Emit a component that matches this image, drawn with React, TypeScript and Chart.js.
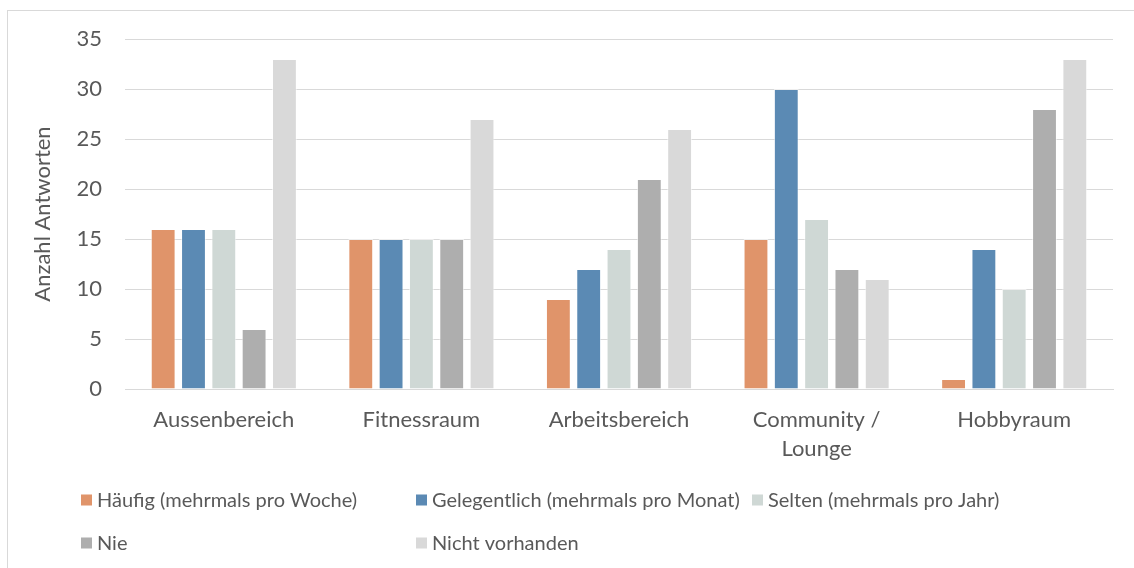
import React, { useEffect, useRef } from "react";
import { Chart, registerables } from "chart.js";

Chart.register(...registerables);

// Categories (rooms) and answer counts per usage frequency
const categories: (string | string[])[] = [
  "Aussenbereich",
  "Fitnessraum",
  "Arbeitsbereich",
  ["Community /", "Lounge"],
  "Hobbyraum",
];

const seriesNames = [
  "Häufig (mehrmals pro Woche)",
  "Gelegentlich (mehrmals pro Monat)",
  "Selten (mehrmals pro Jahr)",
  "Nie",
  "Nicht vorhanden",
];

const haeufig = [16, 15, 9, 15, 1];
const gelegentlich = [16, 15, 12, 30, 14];
const selten = [16, 15, 14, 17, 10];
const nie = [6, 15, 21, 12, 28];
const nichtVorhanden = [33, 27, 26, 11, 33];

const yMin = 0;
const yMax = 35;
const yStep = 5;
const yTitle = "Anzahl Antworten";

const seriesColors = ["#E0946A", "#5B8AB4", "#CFD8D5", "#AEAEAE", "#D9D9D9"];

const FONT = "Lato, 'Open Sans', sans-serif";
const TEXT = "#595959";
const GRID = "#D9D9D9";

// Legend laid out in a fixed grid: three columns, two rows
const legendCols = [81, 416, 752];
const legendRows = [500, 543];
const legendBox = 11;

const gridLegend = {
  id: "gridLegend",
  afterDraw(chart: Chart) {
    const ctx = chart.ctx;
    ctx.save();
    ctx.font = `20px ${FONT}`;
    ctx.textBaseline = "middle";
    ctx.textAlign = "left";
    chart.data.datasets.forEach((ds, i) => {
      const col = i % 3;
      const row = Math.floor(i / 3);
      const x = legendCols[col];
      const y = legendRows[row];
      ctx.fillStyle = ds.backgroundColor as string;
      ctx.fillRect(x, y - legendBox / 2, legendBox, legendBox);
      ctx.fillStyle = TEXT;
      ctx.fillText(ds.label as string, x + legendBox + 5, y + 1);
    });
    ctx.restore();
  },
};

export default function App() {
  const canvasRef = useRef<HTMLCanvasElement | null>(null);

  useEffect(() => {
    const canvas = canvasRef.current;
    if (!canvas) return;
    const values = [haeufig, gelegentlich, selten, nie, nichtVorhanden];
    const chart = new Chart(canvas, {
      type: "bar",
      data: {
        labels: categories,
        datasets: values.map((v, i) => ({
          label: seriesNames[i],
          data: v,
          backgroundColor: seriesColors[i],
          borderColor: "rgba(255,255,255,0.55)",
          borderWidth: 1,
          categoryPercentage: 0.767,
          barPercentage: 0.82,
        })),
      },
      options: {
        animation: false,
        responsive: false,
        maintainAspectRatio: false,
        devicePixelRatio: 1,
        layout: { padding: { left: 26, right: 21, top: 39, bottom: 100 } },
        plugins: {
          legend: { display: false },
          tooltip: { enabled: false },
        },
        scales: {
          x: {
            grid: { display: false },
            border: { display: true, color: GRID, width: 1 },
            ticks: {
              color: TEXT,
              font: { family: FONT, size: 22, lineHeight: 1.32 },
              padding: 8,
              maxRotation: 0,
              autoSkip: false,
            },
            afterFit(scale: any) {
              scale.height = 79;
            },
          },
          y: {
            min: yMin,
            max: yMax,
            grid: { color: GRID, lineWidth: 1, drawTicks: false },
            border: { display: false },
            ticks: {
              stepSize: yStep,
              color: TEXT,
              font: { family: FONT, size: 22 },
              padding: 23,
            },
            title: {
              display: true,
              text: yTitle,
              color: TEXT,
              font: { family: FONT, size: 22 },
              padding: { top: 4, bottom: 0 },
            },
            afterFit(scale: any) {
              scale.width = 99;
            },
          },
        },
      },
      plugins: [gridLegend],
    });
    return () => chart.destroy();
  }, []);

  return (
    <div
      style={{
        position: "fixed",
        left: 0,
        top: 0,
        width: 1134,
        height: 568,
        overflow: "hidden",
        background: "#ffffff",
      }}
    >
      <div
        style={{
          position: "absolute",
          left: 7,
          top: 10,
          width: 1200,
          height: 600,
          border: `1px solid ${GRID}`,
          boxSizing: "border-box",
        }}
      />
      <canvas
        ref={canvasRef}
        width={1134}
        height={568}
        style={{ position: "absolute", left: 0, top: 0, width: 1134, height: 568 }}
      />
    </div>
  );
}
